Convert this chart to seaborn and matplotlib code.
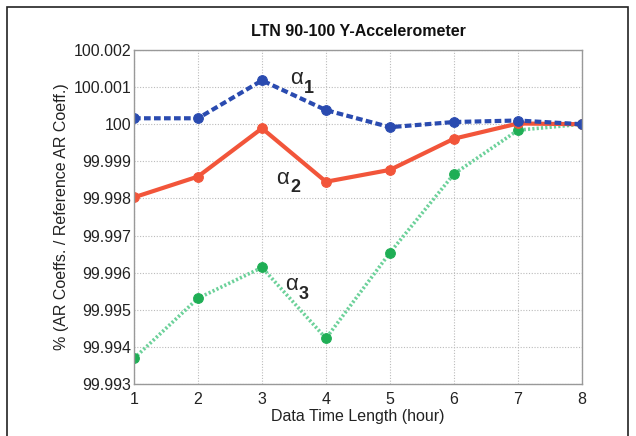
import matplotlib
matplotlib.use("Agg")
import matplotlib.pyplot as plt
import seaborn as sns
import pandas as pd
from matplotlib.patches import Rectangle

hours = [1, 2, 3, 4, 5, 6, 7, 8]
alpha1 = [100.00016, 100.00016, 100.00118, 100.00038, 99.99992, 100.00006, 100.00010, 100.00000]
alpha2 = [99.99803, 99.99859, 99.99989, 99.99845, 99.99877, 99.99961, 100.00002, 100.00000]
alpha3 = [99.99369, 99.99531, 99.99614, 99.99423, 99.99654, 99.99866, 99.99984, 100.00000]
yticks = [99.993, 99.994, 99.995, 99.996, 99.997, 99.998, 99.999, 100.0, 100.001, 100.002]
ytick_labels = ["99.993", "99.994", "99.995", "99.996", "99.997", "99.998", "99.999", "100", "100.001", "100.002"]

sns.set_theme(style="white")
plt.rcParams['font.family'] = ['Liberation Sans', 'DejaVu Sans']

fig = plt.figure(figsize=(6.36, 4.36), dpi=100)
ax = fig.add_axes([134/636, 1-384/436, (582-134)/636, (384-50)/436])

df1 = pd.DataFrame({"x": hours, "y": alpha1})
df2 = pd.DataFrame({"x": hours, "y": alpha2})
df3 = pd.DataFrame({"x": hours, "y": alpha3})

sns.lineplot(data=df3, x="x", y="y", ax=ax, color="#6cd19a", lw=2.6, ls=(0, (0.6, 0.6)),
             marker="o", markersize=7, markerfacecolor="#1fae55", markeredgecolor="#1fae55")
sns.lineplot(data=df2, x="x", y="y", ax=ax, color="#f2553a", lw=3, ls="-",
             marker="o", markersize=7, markerfacecolor="#f2553a", markeredgecolor="#f2553a")
sns.lineplot(data=df1, x="x", y="y", ax=ax, color="#2a4bb0", lw=3, ls=(0, (1.6, 0.8)),
             marker="o", markersize=7, markerfacecolor="#2a4bb0", markeredgecolor="#2a4bb0")

ax.set_xlim(1, 8)
ax.set_ylim(99.993, 100.002)
ax.set_xticks(hours)
ax.set_xticklabels([str(h) for h in hours])
ax.set_yticks(yticks)
ax.set_yticklabels(ytick_labels)
ax.tick_params(axis="x", labelsize=11.5, colors="#222222", length=0, pad=6)
ax.tick_params(axis="y", labelsize=11.5, colors="#222222", length=0, pad=2)
ax.grid(True, color="#bbbbbb", ls=(0, (1, 1.5)), lw=0.8)
for s in ax.spines.values():
    s.set_color("#999999")
    s.set_linewidth(1)

ax.set_xlabel("Data Time Length (hour)", fontsize=11.5, color="#222222", labelpad=1)
ax.set_ylabel("% (AR Coeffs. / Reference AR Coeff.)", fontsize=11.5, color="#222222", labelpad=3)
ax.set_title("LTN 90-100 Y-Accelerometer", fontsize=11.5, fontweight="bold", color="#111111", pad=10)

ax.text(3.44, 100.00122, "α", fontsize=16, ha="left", va="center")
ax.text(3.66, 100.00096, "1", fontsize=13, fontweight="bold", ha="left", va="center")
ax.text(3.22, 99.99855, "α", fontsize=16, ha="left", va="center")
ax.text(3.44, 99.99829, "2", fontsize=13, fontweight="bold", ha="left", va="center")
ax.text(3.36, 99.99568, "α", fontsize=16, ha="left", va="center")
ax.text(3.58, 99.99542, "3", fontsize=13, fontweight="bold", ha="left", va="center")

fig.patches.append(Rectangle((7/636, -0.1), (628-7)/636, 1.1 - 7/436, transform=fig.transFigure,
                             fill=False, edgecolor="#222222", lw=1.2))

fig.savefig("out.png", dpi=100)
